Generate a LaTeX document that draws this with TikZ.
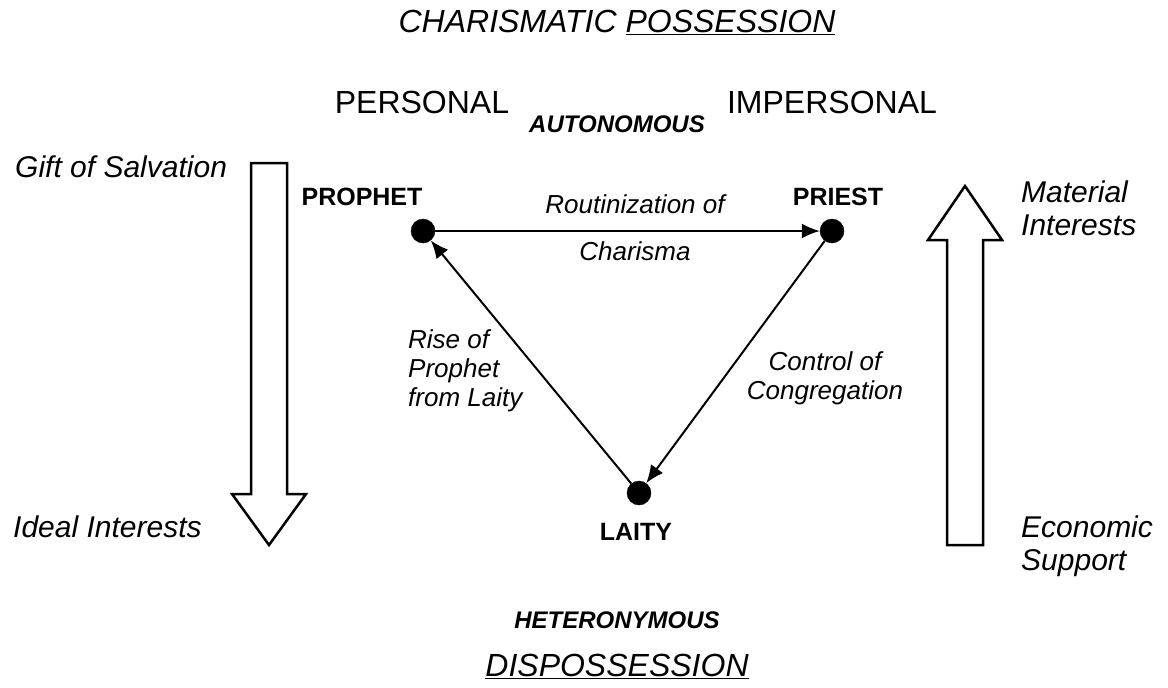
\documentclass[tikz,border=0pt]{standalone}
\usepackage{fontspec}
\setmainfont{Liberation Sans}
\usepackage{tikz}
\usetikzlibrary{shapes}
\usetikzlibrary{arrows.meta}
\usetikzlibrary{positioning}
\tikzset{
  dot_node/.style = {circle, fill=black, draw=black, inner sep=0pt,
    minimum size=24pt},% noeud du triangle
  role_label/.style = {inner sep=0pt, anchor=base,
    font=\fontsize{25}{30}\selectfont\bfseries},
  head_label/.style = {inner sep=0pt, anchor=base,
    font=\fontsize{32}{38}\selectfont},
  title_label/.style = {head_label, font=\fontsize{32}{38}\selectfont\itshape},
  side_label/.style = {inner sep=0pt, align=left, anchor=base west,
    font=\fontsize{30}{33}\selectfont\itshape},
  edge_label/.style = {inner sep=0pt, align=center, anchor=base,
    font=\fontsize{26}{29}\selectfont\itshape},
  pole_label/.style = {inner sep=0pt, anchor=base,
    font=\fontsize{24}{28}\selectfont\bfseries\itshape},
  flow_edge/.style = {line width=2pt, -{Latex[length=18pt,width=15pt]}},
  big_arrow/.style = {draw=black, line width=2.5pt, fill=white, line join=miter}
}
\begin{document}
\begin{tikzpicture}[x=1pt, y=-1pt]
  \useasboundingbox (0,0) rectangle (1168,688);
  % titres haut et bas
  \node [title_label] (possession) at (617,32) {CHARISMATIC \underline{POSSESSION}};
  \node [head_label] (personal) at (422,113) {PERSONAL};
  \node [head_label] (impersonal) at (832,113) {IMPERSONAL};
  \node [pole_label] (autonomous) at (617,132) {AUTONOMOUS};
  \node [pole_label] (heteronymous) at (617,628) {HETERONYMOUS};
  \node [title_label] (dispossession) at (617,676) {\underline{DISPOSSESSION}};
  % triangle
  \node [dot_node] (prophet) at (423,231) {};
  \node [dot_node] (priest) at (832,231) {};
  \node [dot_node] (laity) at (639,493) {};
  \node [role_label] (prophet_lbl) at (362,205) {PROPHET};
  \node [role_label] (priest_lbl) at (838,205) {PRIEST};
  \node [role_label] (laity_lbl) at (636,540) {LAITY};
  \draw [flow_edge] (prophet) -- (priest);
  \draw [flow_edge] (priest) -- (laity);
  \draw [flow_edge] (laity) -- (prophet);
  \node [edge_label] (routin) at (635,213) {Routinization of};
  \node [edge_label] (charisma) at (635,260) {Charisma};
  \node [edge_label, align=left, anchor=base west] (rise) at (408,406)
    {Rise of\\Prophet\\from Laity};
  \node [edge_label] (control) at (825,399) {Control of\\Congregation};
  % fleches creuses
  \draw [big_arrow] (251,163) -- (287,163) -- (287,494) -- (306,494)
    -- (269,545) -- (232,494) -- (251,494) -- cycle;
  \draw [big_arrow] (947,545) -- (983,545) -- (983,240) -- (1002,240)
    -- (965,186) -- (928,240) -- (947,240) -- cycle;
  \node [side_label] (gift) at (15,177) {Gift of Salvation};
  \node [side_label] (ideal) at (13,537) {Ideal Interests};
  \node [side_label] (material) at (1021,235) {Material\\Interests};
  \node [side_label] (economic) at (1021,570) {Economic\\Support};
\end{tikzpicture}
\end{document}
